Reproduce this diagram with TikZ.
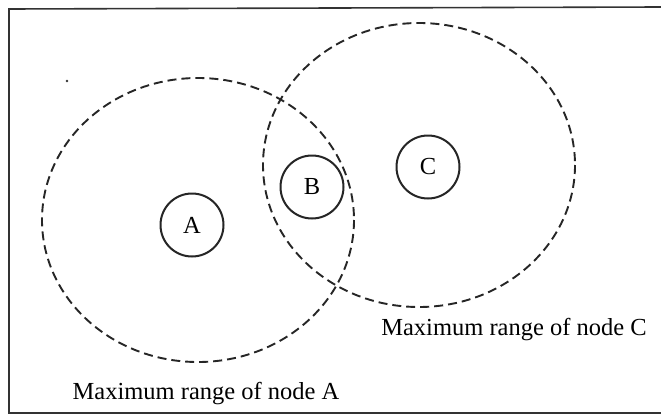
\documentclass[tikz,border=0pt]{standalone}
\usepackage{fontspec}
\setmainfont{Liberation Serif}
\begin{document}
\begin{tikzpicture}[x=1pt,y=-1pt,
  rangeline/.style={draw=black!85, line width=1.9pt, dash pattern=on 9pt off 5pt},
  station/.style={circle, draw=black!85, line width=2pt, minimum size=63pt, inner sep=0pt, font=\fontsize{24.5}{28}\selectfont},
  caption/.style={font=\fontsize{24.5}{28}\selectfont, inner sep=0pt, anchor=base}]
\useasboundingbox (0,0) rectangle (661,415);
\fill[white] (0,0) rectangle (661,415);
% frame (top, left, bottom)
\draw[black!80, line width=1.6pt] (661,7) -- (9,9) -- (9,413) -- (661,413);
% scan speck
\fill[black!80] (67,81) circle (1.4pt);
% range ellipses
\draw[rangeline] (198,220) ellipse [x radius=156, y radius=142];
\draw[rangeline] (419,165) ellipse [x radius=156, y radius=142];
% nodes
\node[station] (A) at (192,225) {A};
\node[station] (B) at (312,187) {B};
\node[station] (C) at (428,167) {C};
% labels
\node[caption] (la) at (206,399) {Maximum range of node A};
\node[caption] (lc) at (514,335) {Maximum range of node C};
\end{tikzpicture}
\end{document}
